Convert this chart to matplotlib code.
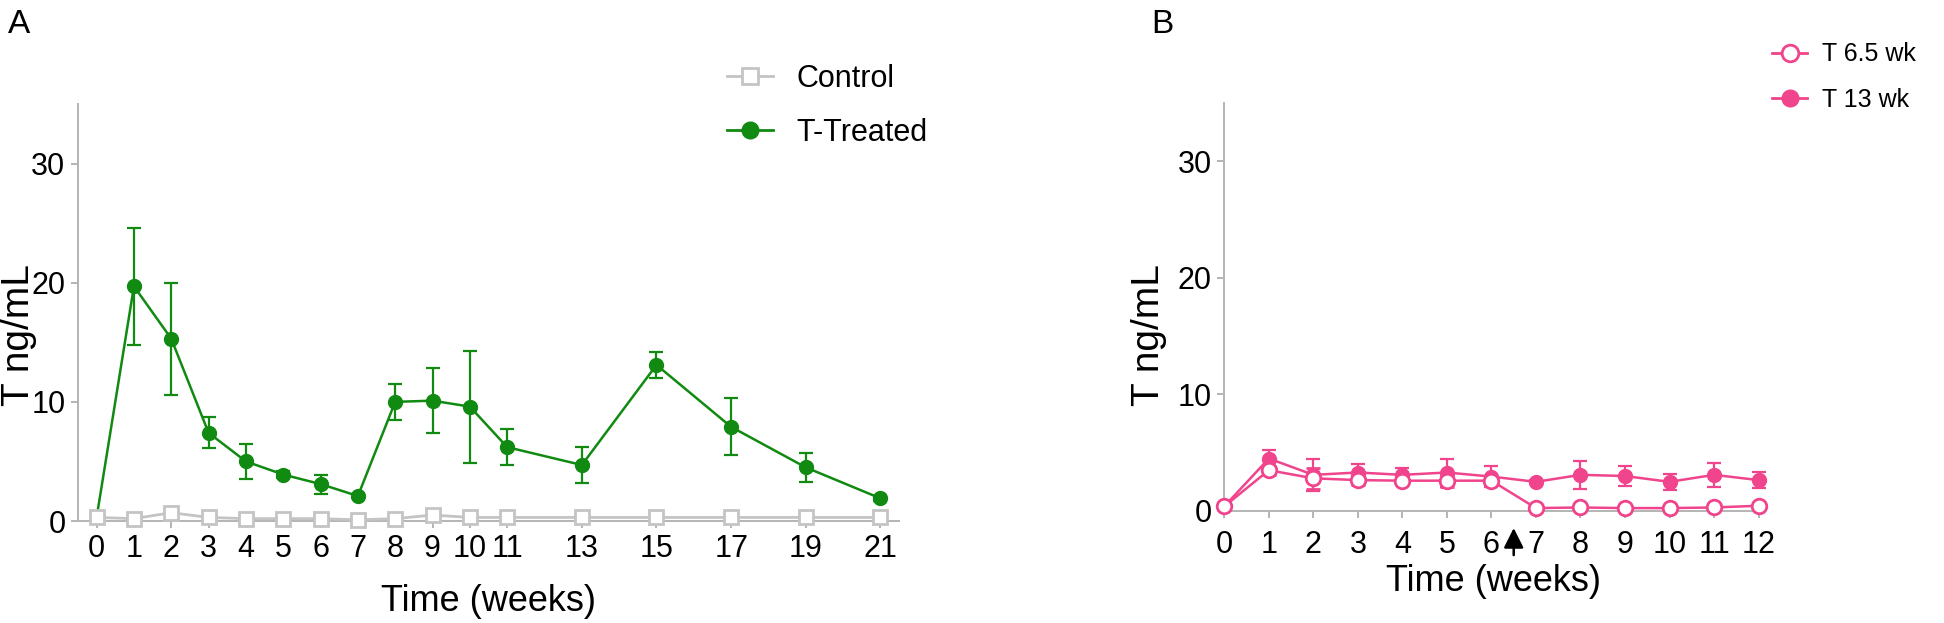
import matplotlib
matplotlib.use("Agg")
import matplotlib.pyplot as plt
from matplotlib.lines import Line2D

plt.rcParams['font.family'] = ['Liberation Sans', 'DejaVu Sans']

# Panel A data
weeks_a = [0, 1, 2, 3, 4, 5, 6, 7, 8, 9, 10, 11, 13, 15, 17, 19, 21]
control = [0.3, 0.2, 0.7, 0.3, 0.2, 0.2, 0.2, 0.1, 0.2, 0.5, 0.3, 0.3, 0.3, 0.3, 0.3, 0.3, 0.3]
treated = [0.3, 19.7, 15.3, 7.4, 5.0, 3.9, 3.1, 2.1, 10.0, 10.1, 9.6, 6.2, 4.7, 13.1, 7.9, 4.5, 1.9]
treated_err = [0.0, 4.9, 4.7, 1.3, 1.5, 0.3, 0.8, 0.2, 1.5, 2.7, 4.7, 1.5, 1.5, 1.1, 2.4, 1.2, 0.2]
xticks_a = [0, 1, 2, 3, 4, 5, 6, 7, 8, 9, 10, 11, 13, 15, 17, 19, 21]

# Panel B data
weeks_b = [0, 1, 2, 3, 4, 5, 6, 7, 8, 9, 10, 11, 12]
t65 = [0.4, 3.5, 2.8, 2.65, 2.6, 2.6, 2.6, 0.25, 0.3, 0.25, 0.25, 0.3, 0.45]
t65_err = [0.1, 0.4, 0.9, 0.4, 0.3, 0.5, 0.4, 0.1, 0.1, 0.1, 0.1, 0.1, 0.1]
t13 = [0.4, 4.5, 3.1, 3.3, 3.1, 3.3, 2.95, 2.5, 3.1, 3.0, 2.5, 3.1, 2.65]
t13_err = [0.1, 0.7, 1.4, 0.7, 0.6, 1.2, 0.9, 0.2, 1.2, 0.85, 0.7, 1.0, 0.7]

green = '#118a11'
pink = '#f0448c'
gray = '#c4c4c4'
spine = '#b4b4b4'

fig = plt.figure(figsize=(19.44, 6.23), dpi=100)
axA = fig.add_axes([0.0401, 0.1637, 0.4224, 0.6694])
axB = fig.add_axes([0.6298, 0.1798, 0.2771, 0.6549])

# panel A
axA.errorbar(weeks_a, treated, yerr=treated_err, color=green, marker='o', ms=10,
             lw=1.8, capsize=5, capthick=1.6, elinewidth=1.6, zorder=3, clip_on=False)
axA.plot(weeks_a, control, color=gray, marker='s', ms=9.5, mfc='white', mec=gray, mew=2,
         lw=2, zorder=4, clip_on=False)
axA.set_xlim(-0.5, 21.5)
axA.set_xticks(xticks_a)
axA.set_ylim(0, 35)
axA.set_yticks([0, 10, 20, 30])

# panel B
axB.errorbar(weeks_b, t13, yerr=t13_err, color=pink, marker='o', ms=10, lw=1.8,
             capsize=5, capthick=1.6, elinewidth=1.6, zorder=3, clip_on=False)
axB.errorbar(weeks_b, t65, yerr=t65_err, color=pink, marker='o', ms=10.5, mfc='white', mec=pink,
             mew=2, lw=1.8, capsize=5, capthick=1.6, elinewidth=1.6, zorder=4, clip_on=False)
axB.set_xlim(0, 12.1)
axB.set_xticks(weeks_b)
axB.set_ylim(0, 35)
axB.set_yticks([0, 10, 20, 30])

for ax in [axA, axB]:
    for s in ['top', 'right']:
        ax.spines[s].set_visible(False)
    for s in ['left', 'bottom']:
        ax.spines[s].set_color(spine)
        ax.spines[s].set_linewidth(1.4)
    ax.tick_params(direction='out', length=5, width=1.4, color=spine, labelsize=22, pad=4)
    ax.set_xlabel('Time (weeks)', fontsize=26)
    ax.set_ylabel('T ng/mL', fontsize=28)
axB.tick_params(axis='x', pad=9)

axA.xaxis.set_label_coords(0.5, -0.15)
axA.yaxis.set_label_coords(-0.05, 0.446)
axB.xaxis.set_label_coords(0.5, -0.13)
axB.yaxis.set_label_coords(-0.106, 0.431)

# arrow marking the stop point
axB.annotate('', xy=(6.5, -0.035), xycoords=('data', 'axes fraction'),
             xytext=(6.5, -0.115), textcoords=('data', 'axes fraction'),
             arrowprops=dict(arrowstyle='-|>', color='black', lw=1.8, mutation_scale=30),
             annotation_clip=False)

handles_a = [Line2D([], [], color=gray, marker='s', ms=12, mfc='white', mec=gray, mew=2, lw=2),
             Line2D([], [], color=green, marker='o', ms=12, lw=2)]
axA.legend(handles_a, ['Control', 'T-Treated'], loc='upper left', bbox_to_anchor=(0.36, 0.942),
           bbox_transform=fig.transFigure, frameon=False, fontsize=22, handlelength=1.5,
           handletextpad=0.75, labelspacing=0.8)
handles_b = [Line2D([], [], color=pink, marker='o', ms=12, mfc='white', mec=pink, mew=2, lw=2),
             Line2D([], [], color=pink, marker='o', ms=12, lw=2)]
axB.legend(handles_b, ['T 6.5 wk', 'T 13 wk'], loc='upper left', bbox_to_anchor=(0.9, 0.968),
           bbox_transform=fig.transFigure, frameon=False, fontsize=18, handlelength=1.4,
           handletextpad=0.6, labelspacing=0.85)

fig.text(0.004, 0.985, 'A', fontsize=24, va='top')
fig.text(0.592, 0.985, 'B', fontsize=24, va='top')

fig.savefig('out.png', dpi=100)
